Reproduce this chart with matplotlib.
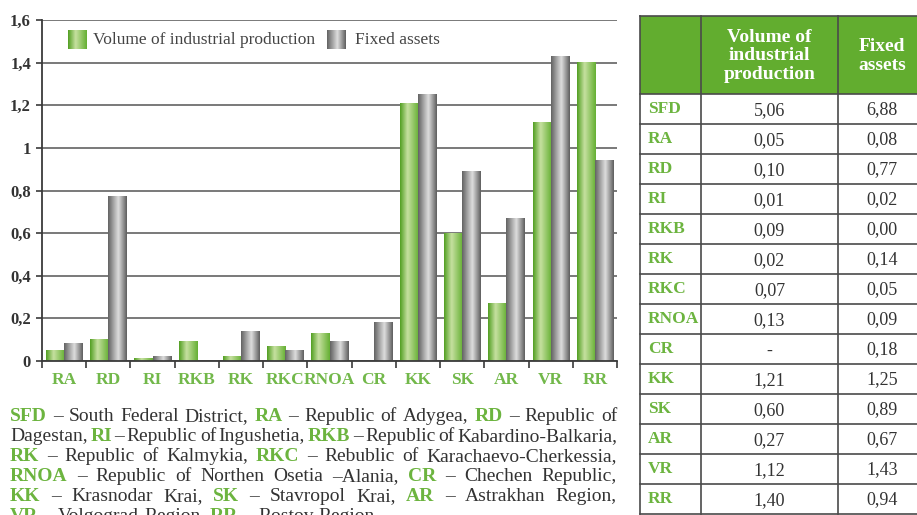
import numpy as np
import matplotlib.pyplot as plt

regions = ['RA', 'RD', 'RI', 'RKB', 'RK', 'RKC', 'RNOA', 'CR', 'KK', 'SK', 'AR', 'VR', 'RR']
volume = [0.05, 0.10, 0.01, 0.09, 0.02, 0.07, 0.13, 0.0, 1.21, 0.60, 0.27, 1.12, 1.40]
assets = [0.08, 0.77, 0.02, 0.00, 0.14, 0.05, 0.09, 0.18, 1.25, 0.89, 0.67, 1.43, 0.94]

y_ticks = [0, 0.2, 0.4, 0.6, 0.8, 1.0, 1.2, 1.4, 1.6]
y_labels = ['0', '0,2', '0,4', '0,6', '0,8', '1', '1,2', '1,4', '1,6']

table_rows = ['SFD'] + regions
table_volume = ['5,06', '0,05', '0,10', '0,01', '0,09', '0,02', '0,07', '0,13', '-',
                '1,21', '0,60', '0,27', '1,12', '1,40']
table_assets = ['6,88', '0,08', '0,77', '0,02', '0,00', '0,14', '0,05', '0,09', '0,18',
                '1,25', '0,89', '0,67', '1,43', '0,94']
table_head = ['Volume of\nindustrial\nproduction', 'Fixed\nassets']

notes = [
    '*SFD* – South Federal District, *RA* – Republic of Adygea, *RD* – Republic of',
    'Dagestan, *RI* – Republic of Ingushetia, *RKB* – Republic of Kabardino-Balkaria,',
    '*RK* – Republic of Kalmykia, *RKC* – Rebublic of Karachaevo-Cherkessia,',
    '*RNOA* – Republic of Northen Osetia –Alania, *CR* – Chechen Republic,',
    '*KK* – Krasnodar Krai, *SK* – Stavropol Krai, *AR* – Astrakhan Region,',
    '*VR* – Volgograd Region, *RR* – Rostov Region.',
]

DARK = '#3a3a3a'
plt.rcParams['font.family'] = ['Liberation Serif', 'DejaVu Serif']


def gradient(stops, n=40):
    pos = [s[0] for s in stops]
    cols = np.array([s[1] for s in stops]) / 255.0
    xs = np.linspace(0, 1, n)
    img = np.stack([np.interp(xs, pos, cols[:, k]) for k in range(3)], axis=-1)
    return img[np.newaxis, :, :]


green_grad = gradient([(0, (84, 160, 36)), (0.4, (198, 224, 160)), (1, (102, 176, 52))])
gray_grad = gradient([(0, (100, 100, 100)), (0.55, (222, 222, 222)), (1, (96, 96, 96))])

fig = plt.figure(figsize=(9.17, 5.15), dpi=100)

# ---- bar chart ----
W, H = 917.0, 515.0
ax = fig.add_axes([42 / W, (H - 361) / H, 575 / W, 341 / H])
x = np.arange(len(regions))
bw = 0.41
bars_v = ax.bar(x - bw / 2, volume, bw, color='none', linewidth=0)
bars_a = ax.bar(x + bw / 2, assets, bw, color='none', linewidth=0)
for bars, grad in ((bars_v, green_grad), (bars_a, gray_grad)):
    for b in bars:
        h = b.get_height()
        if h > 0:
            ax.imshow(grad, extent=[b.get_x(), b.get_x() + b.get_width(), 0, h],
                      aspect='auto', zorder=2, interpolation='bilinear')

ax.set_xlim(-0.5, len(regions) - 0.5)
ax.set_ylim(0, 1.6)
ax.set_yticks(y_ticks)
ax.set_yticklabels(y_labels, fontsize=12, fontweight='bold', color='#333333')
ax.set_xticks(x)
ax.set_xticklabels(regions, fontsize=12.5, fontweight='bold', color='#72b84a')
ax.set_xticks(np.arange(len(regions) + 1) - 0.5, minor=True)
ax.tick_params(axis='x', which='major', length=0, pad=8)
ax.tick_params(axis='x', which='minor', length=5, width=1.2, color=DARK, direction='out')
ax.tick_params(axis='y', length=4, width=1.2, color=DARK, pad=4)
ax.yaxis.grid(True, color='#555555', linewidth=1.1)
ax.set_axisbelow(True)
for s in ('top', 'right'):
    ax.spines[s].set_visible(False)
for s in ('left', 'bottom'):
    ax.spines[s].set_color(DARK)
    ax.spines[s].set_linewidth(1.3)

# legend with gradient swatches
ax.imshow(green_grad, extent=[0.045, 0.078, 0.915, 0.968], transform=ax.transAxes,
          aspect='auto', zorder=3)
ax.text(0.089, 0.941, 'Volume of industrial production', transform=ax.transAxes,
        fontsize=12.5, color='#444444', va='center')
ax.imshow(gray_grad, extent=[0.496, 0.529, 0.915, 0.968], transform=ax.transAxes,
          aspect='auto', zorder=3)
ax.text(0.544, 0.941, 'Fixed assets', transform=ax.transAxes,
        fontsize=12.5, color='#444444', va='center')
ax.set_xlim(-0.5, len(regions) - 0.5)
ax.set_ylim(0, 1.6)

# ---- overlay in pixel coordinates for table and notes ----
ov = fig.add_axes([0, 0, 1, 1], zorder=5)
ov.set_xlim(0, W)
ov.set_ylim(H, 0)
ov.axis('off')

tx = [640, 701, 838, 926]
t_top, t_head, rh = 16, 94, 30
n_rows = len(table_rows)
t_bot = t_head + rh * n_rows
ov.add_patch(plt.Rectangle((tx[0], t_top), tx[-1] - tx[0], t_head - t_top,
                           facecolor='#62ad2f', edgecolor='none'))
lc = '#4a4a4a'
for xx in tx:
    ov.plot([xx, xx], [t_top, t_bot], color=lc, lw=1.2)
ov.plot([tx[0], tx[-1]], [t_top, t_top], color=lc, lw=1.2)
for i in range(n_rows + 1):
    yy = t_head + i * rh
    ov.plot([tx[0], tx[-1]], [yy, yy], color=lc, lw=1.2)
for j, head in enumerate(table_head):
    ov.text((tx[j + 1] + tx[j + 2]) / 2, (t_top + t_head) / 2 + 1, head, ha='center',
            va='center', color='white', fontsize=14, fontweight='bold', linespacing=1.12)
for i, name in enumerate(table_rows):
    yc = t_head + i * rh + rh / 2
    ov.text(tx[0] + 8, yc, name, ha='left', va='center', color='#6cb43f',
            fontsize=12.5, fontweight='bold')
    ov.text((tx[1] + tx[2]) / 2, yc + 2, table_volume[i], ha='center', va='center',
            color='#333333', fontsize=13)
    ov.text((tx[2] + tx[3]) / 2, yc + 1, table_assets[i], ha='center', va='center',
            color='#333333', fontsize=13)

# ---- justified footnote ----
renderer = fig.canvas.get_renderer()
left, right = 10, 617
base0, lstep = 421, 20
for li, line in enumerate(notes):
    items = []
    for tok in line.split(' '):
        bold = tok.startswith('*')
        word = tok.replace('*', '')
        t = ov.text(0, base0 + li * lstep, word, va='baseline', ha='left', fontsize=14,
                    fontweight='bold' if bold else 'normal',
                    color='#6cb43f' if bold else '#333333')
        items.append(t)
    widths = [t.get_window_extent(renderer).width for t in items]
    if li < len(notes) - 1:
        gap = (right - left - sum(widths)) / (len(items) - 1)
    else:
        gap = 5
    xpos = left
    for t, w in zip(items, widths):
        t.set_x(xpos)
        xpos += w + gap

fig.savefig('out.png', dpi=100)
